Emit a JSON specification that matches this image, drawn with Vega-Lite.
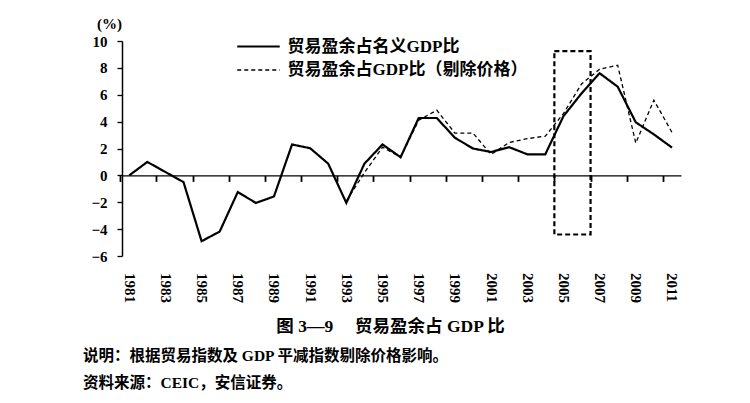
{
  "$schema": "https://vega.github.io/schema/vega-lite/v6.json",
  "width": 559,
  "height": 215,
  "autosize": "none",
  "padding": {"left": 122, "top": 41, "right": 69, "bottom": 147},
  "background": "white",
  "config": {
    "view": {"stroke": null},
    "font": "Liberation Serif, Noto Sans CJK SC",
    "axis": {"grid": false, "ticks": true, "domainColor": "black", "tickColor": "black", "labelColor": "black", "titleColor": "black"}
  },
  "title": {
    "text": ["说明：根据贸易指数及 GDP 平减指数剔除价格影响。", "资料来源：CEIC，安信证券。"],
    "orient": "bottom",
    "anchor": "start",
    "dx": -8,
    "offset": 14,
    "lineHeight": 27,
    "fontSize": 15.5,
    "fontWeight": "bold",
    "color": "black",
    "font": "Liberation Serif, Noto Sans CJK SC"
  },
  "datasets": {
    "box": [{"from": 2004.5, "to": 2006.5, "top": 9.25, "bottom": -4.4}],
    "surplus": [
      {"year": 1981, "series": "贸易盈余占名义GDP比", "value": 0.0},
      {"year": 1982, "series": "贸易盈余占名义GDP比", "value": 1.0},
      {"year": 1983, "series": "贸易盈余占名义GDP比", "value": 0.25},
      {"year": 1984, "series": "贸易盈余占名义GDP比", "value": -0.5},
      {"year": 1985, "series": "贸易盈余占名义GDP比", "value": -4.9},
      {"year": 1986, "series": "贸易盈余占名义GDP比", "value": -4.18},
      {"year": 1987, "series": "贸易盈余占名义GDP比", "value": -1.24},
      {"year": 1988, "series": "贸易盈余占名义GDP比", "value": -2.05},
      {"year": 1989, "series": "贸易盈余占名义GDP比", "value": -1.57},
      {"year": 1990, "series": "贸易盈余占名义GDP比", "value": 2.3},
      {"year": 1991, "series": "贸易盈余占名义GDP比", "value": 2.02},
      {"year": 1992, "series": "贸易盈余占名义GDP比", "value": 0.87},
      {"year": 1993, "series": "贸易盈余占名义GDP比", "value": -2.05},
      {"year": 1994, "series": "贸易盈余占名义GDP比", "value": 0.87},
      {"year": 1995, "series": "贸易盈余占名义GDP比", "value": 2.3},
      {"year": 1996, "series": "贸易盈余占名义GDP比", "value": 1.35},
      {"year": 1997, "series": "贸易盈余占名义GDP比", "value": 4.27},
      {"year": 1998, "series": "贸易盈余占名义GDP比", "value": 4.27},
      {"year": 1999, "series": "贸易盈余占名义GDP比", "value": 2.8},
      {"year": 2000, "series": "贸易盈余占名义GDP比", "value": 2.0},
      {"year": 2001, "series": "贸易盈余占名义GDP比", "value": 1.74},
      {"year": 2002, "series": "贸易盈余占名义GDP比", "value": 2.1},
      {"year": 2003, "series": "贸易盈余占名义GDP比", "value": 1.57},
      {"year": 2004, "series": "贸易盈余占名义GDP比", "value": 1.57},
      {"year": 2005, "series": "贸易盈余占名义GDP比", "value": 4.4},
      {"year": 2006, "series": "贸易盈余占名义GDP比", "value": 6.1},
      {"year": 2007, "series": "贸易盈余占名义GDP比", "value": 7.6},
      {"year": 2008, "series": "贸易盈余占名义GDP比", "value": 6.6},
      {"year": 2009, "series": "贸易盈余占名义GDP比", "value": 3.95},
      {"year": 2010, "series": "贸易盈余占名义GDP比", "value": 3.05},
      {"year": 2011, "series": "贸易盈余占名义GDP比", "value": 2.07},
      {"year": 1993, "series": "贸易盈余占GDP比（剔除价格）", "value": -1.9},
      {"year": 1994, "series": "贸易盈余占GDP比（剔除价格）", "value": 0.2},
      {"year": 1995, "series": "贸易盈余占GDP比（剔除价格）", "value": 2.1},
      {"year": 1996, "series": "贸易盈余占GDP比（剔除价格）", "value": 1.35},
      {"year": 1997, "series": "贸易盈余占GDP比（剔除价格）", "value": 4.1},
      {"year": 1998, "series": "贸易盈余占GDP比（剔除价格）", "value": 4.85},
      {"year": 1999, "series": "贸易盈余占GDP比（剔除价格）", "value": 3.15},
      {"year": 2000, "series": "贸易盈余占GDP比（剔除价格）", "value": 3.15},
      {"year": 2001, "series": "贸易盈余占GDP比（剔除价格）", "value": 1.56},
      {"year": 2002, "series": "贸易盈余占GDP比（剔除价格）", "value": 2.45},
      {"year": 2003, "series": "贸易盈余占GDP比（剔除价格）", "value": 2.73},
      {"year": 2004, "series": "贸易盈余占GDP比（剔除价格）", "value": 2.92},
      {"year": 2005, "series": "贸易盈余占GDP比（剔除价格）", "value": 4.6},
      {"year": 2006, "series": "贸易盈余占GDP比（剔除价格）", "value": 6.8},
      {"year": 2007, "series": "贸易盈余占GDP比（剔除价格）", "value": 7.9},
      {"year": 2008, "series": "贸易盈余占GDP比（剔除价格）", "value": 8.2},
      {"year": 2009, "series": "贸易盈余占GDP比（剔除价格）", "value": 2.4},
      {"year": 2010, "series": "贸易盈余占GDP比（剔除价格）", "value": 5.6},
      {"year": 2011, "series": "贸易盈余占GDP比（剔除价格）", "value": 3.2}
    ]
  },
  "layer": [
    {
      "data": {"name": "box"},
      "mark": {"type": "rect", "fill": null, "stroke": "black", "strokeWidth": 2.2, "strokeDash": [5, 3]},
      "encoding": {
        "x": {"field": "from", "type": "quantitative"},
        "x2": {"field": "to"},
        "y": {"field": "top", "type": "quantitative"},
        "y2": {"field": "bottom"}
      }
    },
    {
      "data": {"name": "surplus"},
      "mark": {"type": "line", "color": "black", "strokeJoin": "miter"},
      "encoding": {
        "x": {
          "field": "year",
          "type": "quantitative",
          "scale": {"domain": [1980.6, 2011.5], "nice": false, "zero": false},
          "axis": {
            "orient": "bottom",
            "offset": -80.6,
            "values": [1981, 1983, 1985, 1987, 1989, 1991, 1993, 1995, 1997, 1999, 2001, 2003, 2005, 2007, 2009, 2011],
            "tickCount": 40,
            "format": "d",
            "domainWidth": 1.3,
            "ticks": true,
            "tickSize": 6,
            "tickWidth": 1.8,
            "tickOffset": -9.05,
            "labelOffset": 9.05,
            "labelAngle": 90,
            "labelAlign": "left",
            "labelBaseline": "middle",
            "labelPadding": 91,
            "labelFlush": false,
            "labelBound": false,
            "labelOverlap": false,
            "labelFontSize": 15,
            "labelFontWeight": "bold",
            "labelFont": "Liberation Serif",
            "title": "图 3—9\u3000\u00a0贸易盈余占 GDP 比",
            "titleFont": "Liberation Serif, Noto Sans CJK SC",
            "titleFontSize": 17.5,
            "titleFontWeight": "bold",
            "titleX": 268,
            "titleY": 151,
            "titleAlign": "center",
            "titleBaseline": "middle"
          }
        },
        "y": {
          "field": "value",
          "type": "quantitative",
          "scale": {"domain": [-6, 10], "nice": false},
          "axis": {
            "values": [-6, -4, -2, 0, 2, 4, 6, 8, 10],
            "tickCount": 20,
            "labelOverlap": false,
            "domainWidth": 1.5,
            "tickSize": 5,
            "tickWidth": 1.3,
            "labelPadding": 10,
            "labelFontSize": 15,
            "labelFontWeight": "bold",
            "labelFont": "Liberation Serif",
            "title": "(%)",
            "titleAngle": 0,
            "titleX": -13,
            "titleY": -18,
            "titleAlign": "center",
            "titleBaseline": "middle",
            "titleFont": "Liberation Serif",
            "titleFontSize": 15,
            "titleFontWeight": "bold"
          }
        },
        "strokeDash": {
          "field": "series",
          "type": "nominal",
          "scale": {"domain": ["贸易盈余占名义GDP比", "贸易盈余占GDP比（剔除价格）"], "range": [[1, 0], [4, 3]]},
          "legend": {
            "title": null,
            "orient": "none",
            "legendX": 126.5,
            "legendY": -4.5,
            "symbolType": "M-2.5,0H2.5",
            "symbolSize": 289,
            "symbolStrokeColor": "black",
            "labelFontSize": 17,
            "labelFontWeight": "bold",
            "labelFont": "Liberation Serif, Noto Sans CJK SC",
            "labelColor": "black",
            "labelLimit": 400,
            "labelOffset": 19,
            "rowPadding": 6
          }
        },
        "strokeWidth": {
          "field": "series",
          "type": "nominal",
          "scale": {"domain": ["贸易盈余占名义GDP比", "贸易盈余占GDP比（剔除价格）"], "range": [2.2, 1.3]},
          "legend": {
            "title": null,
            "orient": "none",
            "legendX": 126.5,
            "legendY": -4.5,
            "symbolType": "M-2.5,0H2.5",
            "symbolSize": 289,
            "symbolStrokeColor": "black",
            "labelFontSize": 17,
            "labelFontWeight": "bold",
            "labelFont": "Liberation Serif, Noto Sans CJK SC",
            "labelColor": "black",
            "labelLimit": 400,
            "labelOffset": 19,
            "rowPadding": 6
          }
        }
      }
    }
  ]
}
